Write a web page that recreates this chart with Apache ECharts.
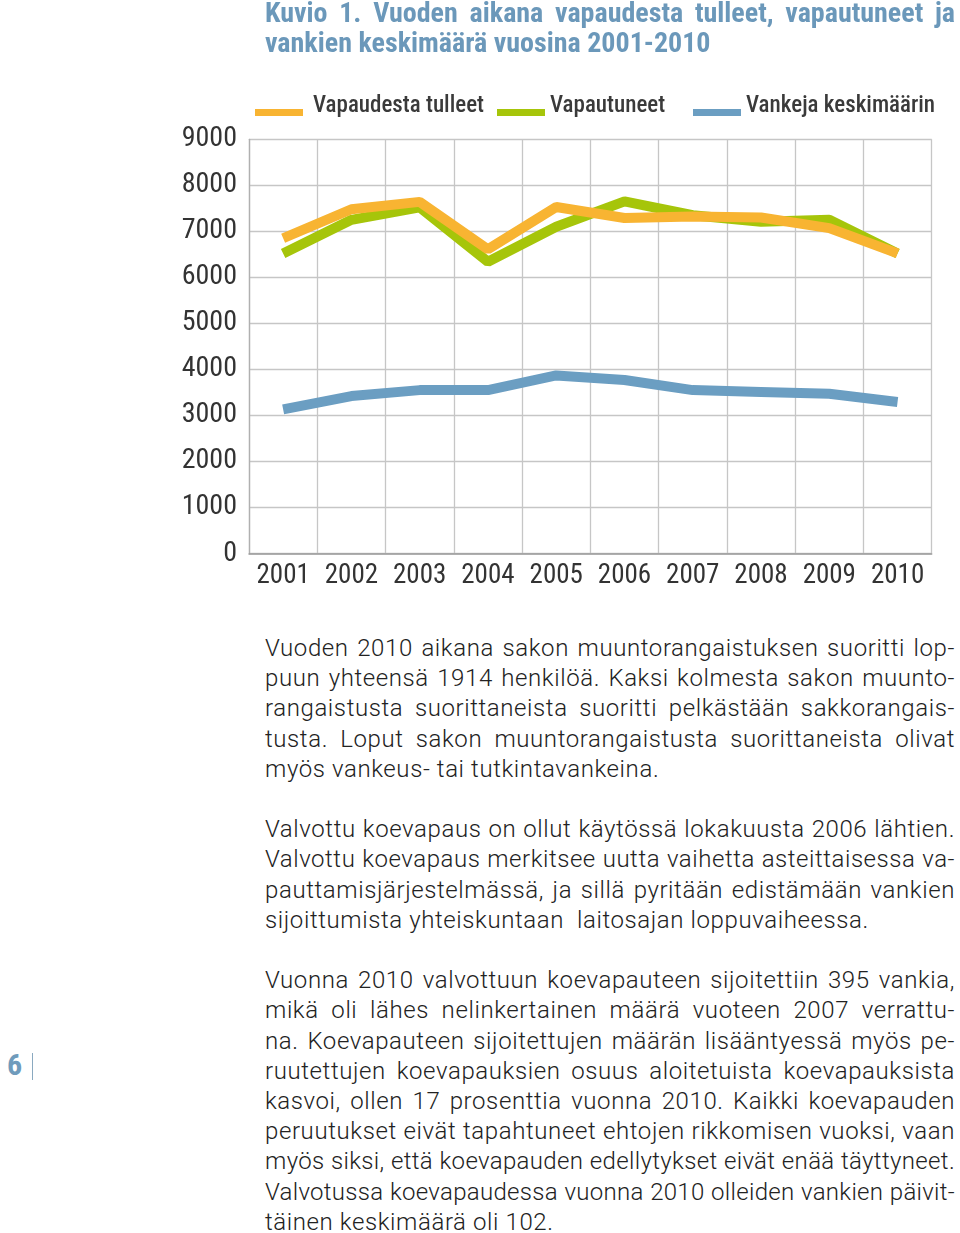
<!DOCTYPE html>
<html>
<head>
<meta charset="utf-8">
<script src="https://cdn.jsdelivr.net/npm/echarts@6/dist/echarts.min.js"></script>
<style>
  html, body { margin: 0; padding: 0; background: #fff; }
  body { width: 960px; height: 1233px; position: relative; overflow: hidden; }
  #title { position: absolute; left: 265px; top: -2px; width: 690px; font-family: "Roboto Condensed", Roboto, sans-serif; font-weight: 700; font-size: 28px; line-height: 30px; color: #6b98ba; }
  #chart { position: absolute; left: 0; top: 0; width: 960px; height: 610px; }
  #body { position: absolute; left: 265px; top: 633px; width: 690px; font-family: Roboto, "Liberation Sans", sans-serif; font-weight: 300; font-size: 24px; letter-spacing: 0.6px; line-height: 30.2px; color: #222; }
  .j { text-align: justify; text-align-last: justify; white-space: nowrap; overflow: hidden; }
  .l { text-align: left; white-space: nowrap; }
  .blank { height: 30.2px; }
  #page { position: absolute; left: 7px; top: 1047px; font-family: "Roboto Condensed", Roboto, sans-serif; font-weight: 700; font-size: 30px; color: #6f9bbc; }
  #bar { position: absolute; left: 32px; top: 1053px; width: 1px; height: 27px; background: #8aa9c0; }
</style>
</head>
<body>
<div id="chart"></div>
<div id="title">
  <div class="j">Kuvio 1. Vuoden aikana vapaudesta tulleet, vapautuneet ja</div>
  <div class="l">vankien keskimäärä vuosina 2001-2010</div>
</div>
<div id="body">
  <div class="j">Vuoden 2010 aikana sakon muuntorangaistuksen suoritti lop-</div>
  <div class="j">puun yhteensä 1914 henkilöä. Kaksi kolmesta sakon muunto-</div>
  <div class="j">rangaistusta suorittaneista suoritti pelkästään sakkorangais-</div>
  <div class="j">tusta. Loput sakon muuntorangaistusta suorittaneista olivat</div>
  <div class="l">myös vankeus- tai tutkintavankeina.</div>
  <div class="blank"></div>
  <div class="j">Valvottu koevapaus on ollut käytössä lokakuusta 2006 lähtien.</div>
  <div class="j">Valvottu koevapaus merkitsee uutta vaihetta asteittaisessa va-</div>
  <div class="j">pauttamisjärjestelmässä, ja sillä pyritään edistämään vankien</div>
  <div class="l">sijoittumista yhteiskuntaan&nbsp; laitosajan loppuvaiheessa.</div>
  <div class="blank"></div>
  <div class="j">Vuonna 2010 valvottuun koevapauteen sijoitettiin 395 vankia,</div>
  <div class="j">mikä oli lähes nelinkertainen määrä vuoteen 2007 verrattu-</div>
  <div class="j">na. Koevapauteen sijoitettujen määrän lisääntyessä myös pe-</div>
  <div class="j">ruutettujen koevapauksien osuus aloitetuista koevapauksista</div>
  <div class="j">kasvoi, ollen 17 prosenttia vuonna 2010. Kaikki koevapauden</div>
  <div class="j">peruutukset eivät tapahtuneet ehtojen rikkomisen vuoksi, vaan</div>
  <div class="j">myös siksi, että koevapauden edellytykset eivät enää täyttyneet.</div>
  <div class="j">Valvotussa koevapaudessa vuonna 2010 olleiden vankien päivit-</div>
  <div class="l">täinen keskimäärä oli 102.</div>
</div>
<div id="page">6</div>
<div id="bar"></div>
<script>
// shrink letter-spacing of any justified line that does not fit the column
document.querySelectorAll('.j').forEach(function (el) {
  let ls = parseFloat(getComputedStyle(el).letterSpacing) || 0;
  let guard = 0;
  while (el.scrollWidth > el.clientWidth && guard < 40) {
    ls -= 0.05; el.style.letterSpacing = ls + 'px'; guard++;
  }
});

const years = ['2001','2002','2003','2004','2005','2006','2007','2008','2009','2010'];
const vapaudestaTulleet = [6850, 7480, 7640, 6610, 7530, 7290, 7320, 7300, 7070, 6520];
const vapautuneet = [6520, 7250, 7520, 6340, 7100, 7650, 7350, 7210, 7250, 6520];
const vankejaKeskimaarin = [3130, 3420, 3550, 3550, 3870, 3770, 3550, 3510, 3470, 3290];
const seriesNames = ['Vapaudesta tulleet', 'Vapautuneet', 'Vankeja keskimäärin'];
const yTicks = { min: 0, max: 9000, interval: 1000 };

const colors = { orange: '#f8b432', green: '#a6c50a', blue: '#6b9ec2' };
const axisFont = '"Roboto Condensed", "DejaVu Sans Condensed", sans-serif';

// legend swatch: a bar sitting in the lower part of a 48x20 box (top sliver is a zero-area anchor)
const swatch = 'path://M0,0 L48,0 L48,0.001 L0,0.001 Z M0,13 L48,13 L48,20 L0,20 Z';

const chart = echarts.init(document.getElementById('chart'), null, { renderer: 'canvas' });
function legendAt(left, name, padLeft) {
  return {
    top: 89.5, left: left, data: [name], itemWidth: 48, itemHeight: 20, icon: swatch, itemGap: 10,
    itemStyle: { borderWidth: 0 },
    textStyle: { fontFamily: axisFont, fontSize: 23, fontWeight: 500, color: '#3a3a3a', padding: [0, 0, 0, padLeft] }
  };
}
chart.setOption({
  animation: false,
  legend: [
    legendAt(250, seriesNames[0], 5),
    legendAt(492, seriesNames[1], 0),
    legendAt(688, seriesNames[2], 0)
  ],
  grid: { left: 249, right: 28.3, top: 139.3, bottom: 610 - 553.5, containLabel: false },
  xAxis: {
    type: 'category', data: years, boundaryGap: true,
    axisLine: { show: true, lineStyle: { color: '#9a9a9a', width: 1.5 } },
    axisTick: { show: false },
    splitLine: { show: true, lineStyle: { color: '#c6c6c6', width: 1.3 } },
    axisLabel: { interval: 0, margin: 9, fontFamily: axisFont, fontSize: 27, color: '#333' }
  },
  yAxis: {
    type: 'value', min: yTicks.min, max: yTicks.max, interval: yTicks.interval,
    axisLine: { show: true, lineStyle: { color: '#b0b0b0', width: 1.3 } },
    axisTick: { show: false },
    splitLine: { show: true, lineStyle: { color: '#c6c6c6', width: 1.3 } },
    axisLabel: { margin: 12, fontFamily: axisFont, fontSize: 28, color: '#333', padding: [4, 0, 0, 0], formatter: v => String(v) }
  },
  series: [
    { name: seriesNames[2], type: 'line', data: vankejaKeskimaarin, showSymbol: false, symbol: 'none', itemStyle: { color: colors.blue }, lineStyle: { color: colors.blue, width: 10 } },
    { name: seriesNames[1], type: 'line', data: vapautuneet, showSymbol: false, symbol: 'none', itemStyle: { color: colors.green }, lineStyle: { color: colors.green, width: 10 } },
    { name: seriesNames[0], type: 'line', data: vapaudestaTulleet, showSymbol: false, symbol: 'none', itemStyle: { color: colors.orange }, lineStyle: { color: colors.orange, width: 10 } }
  ]
});
</script>
</body>
</html>
